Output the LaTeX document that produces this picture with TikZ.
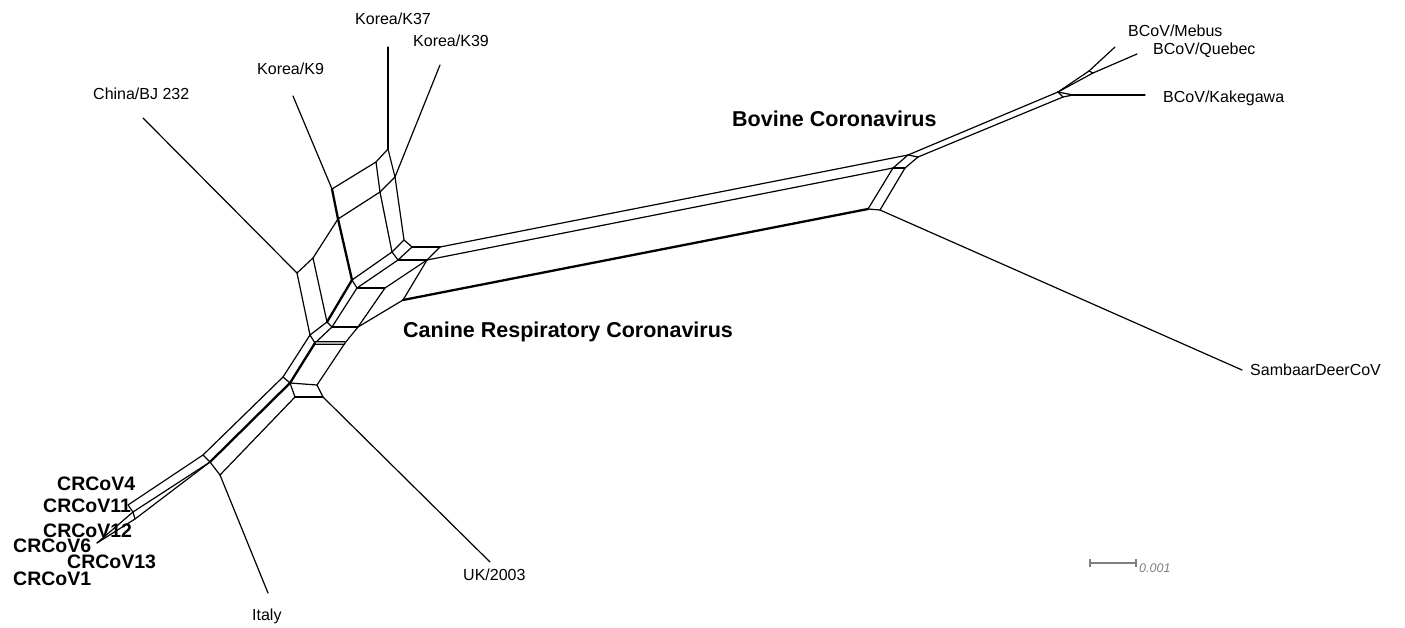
\documentclass[tikz,border=0pt]{standalone}
\usepackage{fontspec}
\setmainfont{Liberation Sans}
\begin{document}
\begin{tikzpicture}[x=1pt,y=-1pt]
\tikzset{
  edge/.style={line width=1.2pt, line cap=round, line join=round},
  thk/.style={line width=2.3pt, line cap=round, line join=round},
  greydbl/.style={double=black!35, double distance=1.6pt, line width=0.9pt},
  leaflab/.style={font=\fontsize{16}{19}\selectfont, inner sep=0pt, anchor=base west},
  cladelab/.style={font=\bfseries\fontsize{21.5}{25}\selectfont, inner sep=0pt, anchor=base west},
  crlab/.style={font=\bfseries\fontsize{19.5}{23}\selectfont, inner sep=0pt, anchor=base west},
  scalelab/.style={font=\itshape\fontsize{12.5}{15}\selectfont, text=black!50, inner sep=0pt, anchor=base west},
}
\useasboundingbox (0,0) rectangle (1405,628);
% ---- junctions: Korea box
\coordinate (A) at (332,189);
\coordinate (C) at (376,162);
\coordinate (B) at (388,149);
\coordinate (E) at (338,219);
\coordinate (F) at (380,192);
\coordinate (D) at (395,177);
\coordinate (K) at (352,280);
\coordinate (H) at (392,252);
\coordinate (I) at (404,240);
\coordinate (L) at (357,288);
\coordinate (J) at (398,260);
\coordinate (G) at (412,247);
\coordinate (M) at (440,247);
\coordinate (P) at (427,260);
\coordinate (R) at (403,300);
\coordinate (T) at (385,288);
\coordinate (V) at (358,327);
% ---- left part
\coordinate (Y) at (297,273);
\coordinate (Y2) at (313,258);
\coordinate (X1) at (310,335);
\coordinate (W1) at (327,322);
\coordinate (X2) at (315,343);
\coordinate (W2) at (332,327);
\coordinate (Z) at (345,343);
\coordinate (BL1) at (283,377);
\coordinate (BL2) at (290,383);
\coordinate (BL3) at (317,385);
\coordinate (BL4) at (295,397);
\coordinate (BL5) at (323,397);
\coordinate (C1) at (203,455);
\coordinate (C2) at (210,462);
\coordinate (C3) at (220,475);
\coordinate (T1) at (128,505);
\coordinate (T2) at (133,512);
\coordinate (T3) at (135,519);
\coordinate (Tip) at (97,543);
% ---- bovine band
\coordinate (N) at (908,155);
\coordinate (Q) at (893,168);
\coordinate (S) at (868,209);
\coordinate (Nb) at (918,157);
\coordinate (Qb) at (905,168);
\coordinate (Sb) at (880,210);
\coordinate (F1) at (1058,92);
\coordinate (F2) at (1063,97);
\coordinate (Ka) at (1073,95);
\coordinate (Mj1) at (1089,71);
\coordinate (Mj2) at (1093,73);
% ---- leaf ends
\coordinate (lChina) at (143,118);
\coordinate (lK9) at (293,96);
\coordinate (lK37) at (388,47);
\coordinate (lK39) at (440,65);
\coordinate (lMebus) at (1115,47);
\coordinate (lQuebec) at (1137,54);
\coordinate (lKake) at (1145,95);
\coordinate (lSamb) at (1242,370);
\coordinate (lUK) at (490,562);
\coordinate (lItaly) at (268,593);

% ---- leaf edges
\draw[edge] (lChina) -- (Y);
\draw[edge] (lK9) -- (A);
\draw[edge] (lK37) -- (B);
\draw[edge] (lK39) -- (D);
\draw[edge] (lMebus) -- (Mj1);
\draw[edge] (lQuebec) -- (Mj2);
\draw[edge] (lKake) -- (Ka);
\draw[edge] (lSamb) -- (Sb);
\draw[edge] (lUK) -- (BL5);
\draw[edge] (lItaly) -- (C3);

% ---- Korea box
\draw[edge] (A) -- (C) -- (B);
\draw[edge] (E) -- (F) -- (D);
\draw[thk] (A) -- (E) -- (K);
\draw[edge] (C) -- (F) -- (H);
\draw[edge] (B) -- (D) -- (I);
\draw[edge] (K) -- (H) -- (I);
\draw[edge] (L) -- (J) -- (G);
\draw[edge] (K) -- (L);
\draw[edge] (H) -- (J);
\draw[edge] (I) -- (G);

% ---- left boxes
\draw[edge] (Y) -- (Y2) -- (E);
\draw[edge] (Y) -- (X1);
\draw[edge] (Y2) -- (W1);
\draw[edge] (X1) -- (W1);
\draw[thk] (W1) -- (K);
\draw[edge] (X1) -- (X2);
\draw[edge] (W1) -- (W2);
\draw[edge] (X2) -- (W2);
\draw[edge] (W2) -- (L);
\draw[edge] (W2) -- (V);
\draw[greydbl] (X2) -- (Z);
\draw[edge] (Z) -- (V);
\draw[edge] (V) -- (T);
\draw[edge] (L) -- (T);
\draw[edge] (T) -- (P);
\draw[edge] (J) -- (P);
\draw[edge] (G) -- (M);
\draw[edge] (M) -- (P) -- (R);
\draw[edge] (V) -- (R);

% ---- long bovine band
\draw[edge] (M) -- (N);
\draw[edge] (P) -- (Q);
\draw[thk] (R) -- (S);
\draw[edge] (N) -- (Q) -- (S);
\draw[edge] (Nb) -- (Qb) -- (Sb);
\draw[edge] (N) -- (Nb);
\draw[edge] (Q) -- (Qb);
\draw[edge] (S) -- (Sb);

% ---- BCoV fan
\draw[edge] (N) -- (F1);
\draw[edge] (Nb) -- (F2);
\draw[edge] (F1) -- (F2);
\draw[edge] (F1) -- (Ka);
\draw[edge] (F2) -- (Ka);
\draw[edge] (F1) -- (Mj1);
\draw[edge] (F1) -- (Mj2);
\draw[edge] (Mj1) -- (Mj2);

% ---- lower part
\draw[edge] (X1) -- (BL1);
\draw[thk] (X2) -- (BL2);
\draw[edge] (Z) -- (BL3);
\draw[edge] (BL1) -- (BL2);
\draw[edge] (BL2) -- (BL3);
\draw[edge] (BL2) -- (BL4);
\draw[edge] (BL3) -- (BL5);
\draw[edge] (BL4) -- (BL5);
\draw[edge] (BL1) -- (C1);
\draw[thk] (BL2) -- (C2);
\draw[edge] (BL4) -- (C3);
\draw[edge] (C1) -- (C2) -- (C3);
\draw[edge] (C1) -- (T1);
\draw[edge] (C2) -- (T2);
\draw[edge] (C2) -- (T3);
\draw[edge] (T1) -- (T2) -- (T3);
\draw[edge] (T2) -- (Tip);
\draw[edge] (T3) -- (Tip);

% ---- labels
\node[leaflab] (nK37) at (355,25) {Korea/K37};
\node[leaflab] (nK39) at (413,47) {Korea/K39};
\node[leaflab] (nK9) at (257,75) {Korea/K9};
\node[leaflab] (nChina) at (93,100) {China/BJ 232};
\node[leaflab] (nMebus) at (1128,37) {BCoV/Mebus};
\node[leaflab] (nQuebec) at (1153,55) {BCoV/Quebec};
\node[leaflab] (nKake) at (1163,103) {BCoV/Kakegawa};
\node[leaflab] (nSamb) at (1250,375) {SambaarDeerCoV};
\node[leaflab] (nUK) at (463,580) {UK/2003};
\node[leaflab] (nItaly) at (252,620) {Italy};
\node[cladelab] (nBov) at (732,127) {Bovine Coronavirus};
\node[cladelab] (nCan) at (403,337) {Canine Respiratory Coronavirus};
\node[crlab] (cr4) at (57,490) {CRCoV4};
\node[crlab] (cr11) at (43,512) {CRCoV11};
\node[crlab] (cr12) at (43,537) {CRCoV12};
\node[crlab] (cr6) at (13,552) {CRCoV6};
\node[crlab] (cr13) at (67,568) {CRCoV13};
\node[crlab] (cr1) at (13,585) {CRCoV1};

% ---- scale bar
\coordinate (sb1) at (1090,563);
\coordinate (sb2) at (1136,563);
\draw[line width=1.5pt, black!50] (sb1) -- (sb2);
\draw[line width=1.2pt, black!50] ([yshift=4pt]sb1) -- ([yshift=-4pt]sb1);
\draw[line width=1.2pt, black!50] ([yshift=4pt]sb2) -- ([yshift=-4pt]sb2);
\node[scalelab] (sblab) at (1139,572) {0.001};
\end{tikzpicture}
\end{document}
